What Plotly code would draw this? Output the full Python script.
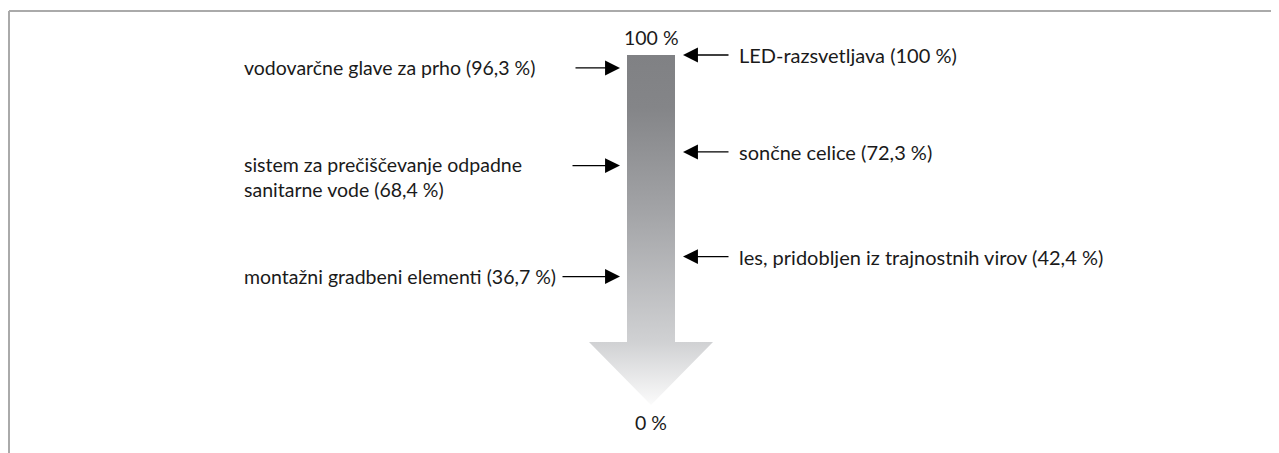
import plotly.graph_objects as go

# ---- data ----
left_labels = ["vodovarčne glave za prho (96,3 %)",
               "sistem za prečiščevanje odpadne<br>sanitarne vode (68,4 %)",
               "montažni gradbeni elementi (36,7 %)"]
left_values = [96.3, 68.4, 36.7]
right_labels = ["LED-razsvetljava (100 %)",
                "sončne celice (72,3 %)",
                "les, pridobljen iz trajnostnih virov (42,4 %)"]
right_values = [100, 72.3, 42.4]
scale_top_label = "100 %"
scale_bottom_label = "0 %"
scale_max = 100
scale_min = 0

FONT = "Lato"
FS = 19.5
TXT = "#1a1a1a"
OFF = 8  # page body margin offset
W, H = 1279, 453
fig = go.Figure()

# arrow body (shaft + head) in axis units
cx = 651
shaft_half = 24
head_half = 62
head_base = scale_min + 18
ax_x = [cx - shaft_half, cx + shaft_half, cx + shaft_half, cx + head_half, cx,
        cx - head_half, cx - shaft_half, cx - shaft_half]
ax_y = [scale_max, scale_max, head_base, head_base, scale_min,
        head_base, head_base, scale_max]
fig.add_trace(go.Scatter(
    x=ax_x, y=ax_y, mode="lines", fill="toself", line=dict(width=0),
    fillgradient=dict(type="vertical",
                      colorscale=[[0, "#fbfbfb"], [0.18, "#d0d1d3"],
                                  [0.55, "#a3a4a7"], [0.85, "#848588"],
                                  [1, "#808184"]]),
    hoverinfo="skip", showlegend=False))

ann = []
# scale labels
ann.append(dict(x=cx, y=scale_max, text=scale_top_label, showarrow=False,
                yanchor="bottom", yshift=4, font=dict(size=FS, color=TXT, family=FONT)))
ann.append(dict(x=cx, y=scale_min, text=scale_bottom_label, showarrow=False,
                yanchor="top", yshift=-4, font=dict(size=FS, color=TXT, family=FONT)))

left_tails = [574, 571, 561]
for lab, v, tail in zip(left_labels, left_values, left_tails):
    multi = "<br>" in lab
    ann.append(dict(x=242, y=v, text=lab, showarrow=False, xanchor="left", align="left",
                    yanchor="top" if multi else "middle", yshift=15 if multi else 0,
                    font=dict(size=FS, color=TXT, family=FONT)))
    ann.append(dict(x=620, y=v, ax=tail, ay=v, axref="x", ayref="y", text="",
                    showarrow=True, arrowhead=2, arrowsize=2.3, arrowwidth=1.3,
                    arrowcolor="#000000"))

for lab, v in zip(right_labels, right_values):
    ann.append(dict(x=737, y=v, text=lab, showarrow=False, xanchor="left",
                    yanchor="middle", font=dict(size=FS + 0.5, color=TXT, family=FONT)))
    ann.append(dict(x=683, y=v, ax=730, ay=v, axref="x", ayref="y", text="",
                    showarrow=True, arrowhead=2, arrowsize=2.3, arrowwidth=1.3,
                    arrowcolor="#000000"))

# frame lines (top & left)
fx = (9 - OFF) / W
fy = 1 - (11 - OFF) / H
shapes = [
    dict(type="line", xref="paper", yref="paper", x0=fx, x1=1, y0=fy, y1=fy,
         line=dict(color="#aaaaaa", width=2)),
    dict(type="line", xref="paper", yref="paper", x0=fx, x1=fx, y0=fy, y1=0,
         line=dict(color="#aaaaaa", width=2)),
]

fig.update_layout(
    width=W, height=H, margin=dict(l=0, r=0, t=0, b=0),
    paper_bgcolor="white", plot_bgcolor="white",
    xaxis=dict(range=[OFF, W + OFF], visible=False, fixedrange=True),
    yaxis=dict(range=[(405 - H - OFF) / 3.5, (405 - OFF) / 3.5], visible=False,
               fixedrange=True),
    annotations=ann, shapes=shapes, showlegend=False,
)
fig.write_html("out.html")
